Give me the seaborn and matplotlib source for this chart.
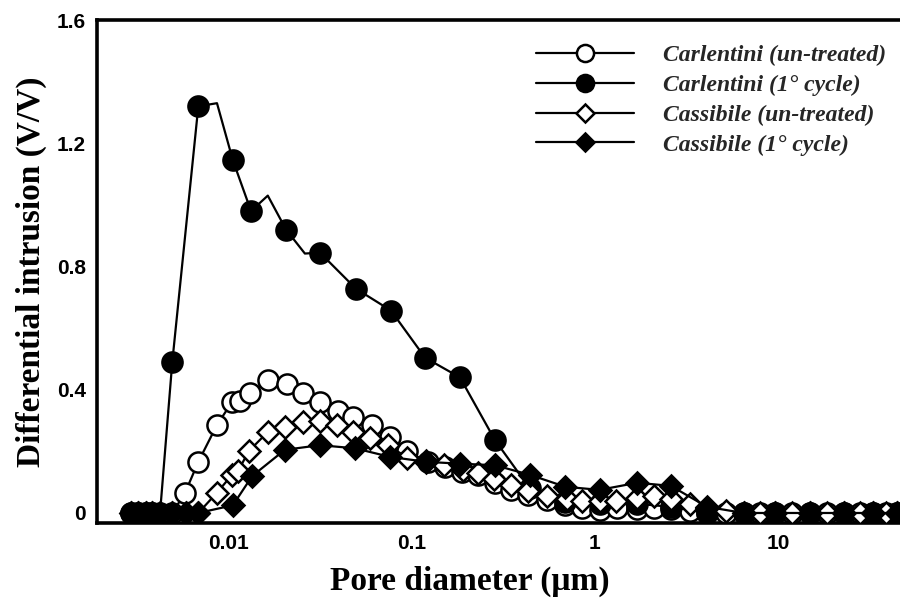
import numpy as np
import pandas as pd
import matplotlib
matplotlib.use("Agg")
import matplotlib.pyplot as plt
import seaborn as sns
from matplotlib.lines import Line2D
from matplotlib.ticker import LogLocator, FixedLocator, FixedFormatter, NullFormatter

# ---------------- data ----------------
labels = ["Carlentini (un-treated)", "Carlentini (1° cycle)",
          "Cassibile (un-treated)", "Cassibile (1° cycle)"]

# Carlentini un-treated (open circles)
ca_u_d = [0.0029, 0.0032, 0.0035, 0.0038, 0.0042, 0.0049, 0.00575, 0.0068, 0.0086, 0.0104,
          0.0115, 0.013, 0.0163, 0.0207, 0.0254, 0.0314, 0.0394, 0.0476, 0.0604, 0.0758,
          0.094, 0.122, 0.151, 0.187, 0.23, 0.284, 0.35, 0.43, 0.547, 0.686,
          0.85, 1.06, 1.32, 1.7, 2.1, 2.6, 3.3, 4.1, 5.2, 6.5,
          8.0, 9.6, 12.0, 14.9, 18.5, 23.0, 28.0, 33.0, 39.0, 45.0]
ca_u_v = [0.0, 0.0, 0.0, 0.0, 0.0, 0.0, 0.065, 0.166, 0.286, 0.36,
          0.365, 0.39, 0.43, 0.42, 0.39, 0.36, 0.33, 0.31, 0.286, 0.248,
          0.20, 0.166, 0.15, 0.133, 0.124, 0.098, 0.075, 0.059, 0.042, 0.026,
          0.016, 0.010, 0.016, 0.013, 0.015, 0.012, 0.005, 0.0, 0.0, 0.0,
          0.0, 0.0, 0.0, 0.0, 0.0, 0.0, 0.0, 0.0, 0.0, 0.0]

# Carlentini 1° cycle (filled circles); marked = has a marker on that point
ca_c_d = [0.0029, 0.0032, 0.0035, 0.0038, 0.0042, 0.0049, 0.0068, 0.0086, 0.0105, 0.0132,
          0.0163, 0.0205, 0.026, 0.0314, 0.0494, 0.0768, 0.118, 0.183, 0.284, 0.44,
          0.69, 1.06, 1.7, 2.6, 4.1, 6.5, 9.6, 14.9, 23.0, 33.0, 45.0]
ca_c_v = [0.0, 0.0, 0.0, 0.0, 0.0, 0.49, 1.32, 1.33, 1.145, 0.98,
          1.03, 0.92, 0.842, 0.845, 0.728, 0.657, 0.504, 0.44, 0.237, 0.08,
          0.035, 0.03, 0.03, 0.02, 0.0, 0.0, 0.0, 0.0, 0.0, 0.0, 0.0]
ca_c_marked = [1, 1, 1, 1, 0, 1, 1, 0, 1, 1,
               0, 1, 0, 1, 1, 1, 1, 1, 1, 1,
               1, 1, 1, 1, 1, 1, 1, 1, 1, 1, 1]

# Cassibile un-treated (open diamonds)
cs_u_d = [0.0029, 0.0032, 0.0035, 0.0038, 0.0042, 0.0049, 0.0058, 0.0068, 0.0086, 0.0104,
          0.0112, 0.0128, 0.0163, 0.0202, 0.0254, 0.0314, 0.039, 0.0476, 0.059, 0.074,
          0.094, 0.12, 0.15, 0.19, 0.23, 0.28, 0.35, 0.43, 0.55, 0.7,
          0.85, 1.06, 1.3, 1.7, 2.1, 2.6, 3.3, 4.1, 5.2, 6.5,
          8.0, 9.6, 12.0, 14.9, 18.5, 23.0, 28.0, 33.0, 39.0, 45.0]
cs_u_v = [0.0, 0.0, 0.0, 0.0, 0.0, 0.0, 0.0, 0.0, 0.066, 0.124,
          0.135, 0.20, 0.263, 0.278, 0.296, 0.30, 0.286, 0.263, 0.244, 0.22,
          0.18, 0.17, 0.155, 0.14, 0.13, 0.11, 0.09, 0.07, 0.055, 0.045,
          0.04, 0.04, 0.04, 0.05, 0.055, 0.045, 0.03, 0.015, 0.005, 0.0,
          0.0, 0.0, 0.0, 0.0, 0.0, 0.0, 0.0, 0.0, 0.0, 0.0]

# Cassibile 1° cycle (filled diamonds)
cs_c_d = [0.0029, 0.0032, 0.0035, 0.0038, 0.0042, 0.0049, 0.0058, 0.0068, 0.0105, 0.0134,
          0.0202, 0.0314, 0.0488, 0.076, 0.12, 0.183, 0.284, 0.44, 0.69, 1.06,
          1.7, 2.6, 4.1, 6.5, 9.6, 14.9, 23.0, 33.0, 45.0]
cs_c_v = [0.0, 0.0, 0.0, 0.0, 0.0, 0.0, 0.0, 0.0, 0.025, 0.12,
          0.205, 0.22, 0.21, 0.182, 0.166, 0.16, 0.155, 0.124, 0.085, 0.075,
          0.098, 0.088, 0.02, 0.0, 0.0, 0.0, 0.0, 0.0, 0.0]

y_ticks = [0.0, 0.4, 0.8, 1.2, 1.6]
y_ticklabels = ["0", "0.4", "0.8", "1.2", "1.6"]
y_minor = [0.2, 0.6, 1.0, 1.4]
x_ticks = [0.01, 0.1, 1, 10]
x_ticklabels = ["0.01", "0.1", "1", "10"]

# ---------------- figure ----------------
sns.set_theme(style="white")
plt.rcParams["font.family"] = ["Liberation Serif", "DejaVu Serif"]

fig = plt.figure(figsize=(9.0, 6.04), dpi=100)
W, H = 900, 604
ax = fig.add_axes([97 / W, 1 - 523 / H, (900 - 97) / W, (523 - 20) / H])

ms = 14.5
mew = 1.8
lw = 1.6

styles = [
    dict(marker="o", markerfacecolor="white", markeredgecolor="black", markersize=ms),
    dict(marker="o", markerfacecolor="black", markeredgecolor="black", markersize=ms),
    dict(marker="D", markerfacecolor="white", markeredgecolor="black", markersize=ms * 0.75),
    dict(marker="D", markerfacecolor="black", markeredgecolor="black", markersize=ms * 0.75),
]

# Carlentini un-treated
sns.lineplot(x=ca_u_d, y=ca_u_v, ax=ax, color="black", lw=lw, sort=False,
             markeredgewidth=mew, zorder=3, **styles[0])
# Carlentini 1° cycle (markers only on the marked points)
mk_idx = [i for i, m in enumerate(ca_c_marked) if m]
sns.lineplot(x=ca_c_d, y=ca_c_v, ax=ax, color="black", lw=lw, sort=False,
             markeredgewidth=mew, markevery=mk_idx, zorder=4, **styles[1])
# Cassibile un-treated
sns.lineplot(x=cs_u_d, y=cs_u_v, ax=ax, color="black", lw=lw, sort=False,
             markeredgewidth=mew, zorder=5, **styles[2])
# Cassibile 1° cycle
sns.lineplot(x=cs_c_d, y=cs_c_v, ax=ax, color="black", lw=lw, sort=False,
             markeredgewidth=mew, zorder=6, **styles[3])

ax.set_xscale("log")
ax.set_xlim(0.0019, 46.5)
ax.set_ylim(-0.0325, 1.6)

# ticks
ax.xaxis.set_major_locator(FixedLocator(x_ticks))
ax.xaxis.set_major_formatter(FixedFormatter(x_ticklabels))
ax.xaxis.set_minor_locator(LogLocator(base=10, subs=np.arange(2, 10)))
ax.xaxis.set_minor_formatter(NullFormatter())
ax.yaxis.set_major_locator(FixedLocator(y_ticks))
ax.yaxis.set_major_formatter(FixedFormatter(y_ticklabels))
ax.yaxis.set_minor_locator(FixedLocator(y_minor))

ax.tick_params(axis="both", which="major", direction="in", length=17, width=1.6,
               color="black", labelsize=15, pad=8)
ax.tick_params(axis="both", which="minor", direction="in", length=8, width=1.4,
               color="black")
ax.tick_params(axis="x", which="minor", length=9)
ax.tick_params(top=False, right=False, which="both")
for lab in ax.get_xticklabels() + ax.get_yticklabels():
    lab.set_fontfamily(["Liberation Sans", "DejaVu Sans"])
    lab.set_fontweight("bold")
    lab.set_color("black")

for side in ["left", "bottom", "top"]:
    ax.spines[side].set_visible(True)
    ax.spines[side].set_linewidth(2.6)
    ax.spines[side].set_color("black")
ax.spines["right"].set_visible(False)

ax.set_xlabel("Pore diameter (μm)", fontsize=24, fontweight="bold", color="black")
ax.xaxis.set_label_coords((470 - 97) / 803, -0.085)
ax.set_ylabel("Differential intrusion (V/V)", fontsize=24, fontweight="bold",
              color="black")
ax.yaxis.set_label_coords((47 - 97) / 803, 0.5)

# legend
handles = []
for st in styles:
    s = dict(st)
    s["markersize"] = s["markersize"] * 0.85
    handles.append(Line2D([0], [0], color="black", lw=lw, markeredgewidth=mew, **s))
leg = ax.legend(handles, labels, loc="upper right", bbox_to_anchor=(1.0, 0.979),
                frameon=False, handlelength=4.15, handletextpad=1.2, labelspacing=0.35,
                borderaxespad=0.2,
                prop=dict(family=["Liberation Serif", "DejaVu Serif"], weight="bold",
                          style="italic", size=17))

fig.savefig("out.png", dpi=100, facecolor="white")
